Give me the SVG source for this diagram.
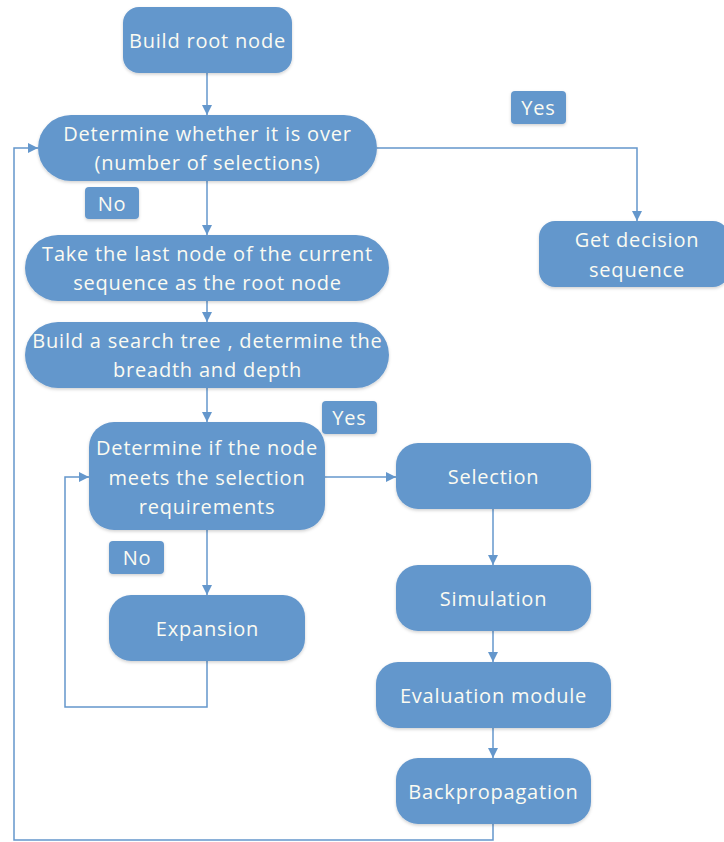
<svg xmlns="http://www.w3.org/2000/svg" width="724" height="842" viewBox="0 0 724 842">
<style>
.n{fill:#6497CC;}
.t{font-family:"Open Sans","Noto Sans",sans-serif;font-size:20px;letter-spacing:0.8px;fill:#FBFBF2;text-anchor:middle;}
.c{fill:none;stroke:#6497CC;stroke-width:1.5;}
</style>
<defs>
<marker id="a" viewBox="0 0 10 10" refX="10" refY="5" markerWidth="10" markerHeight="10" markerUnits="userSpaceOnUse" orient="auto">
<path d="M0,0 L10,5 L0,10 z" fill="#6497CC"/>
</marker>
<filter id="s" x="-10%" y="-10%" width="120%" height="130%">
<feDropShadow dx="0" dy="1.5" stdDeviation="1.5" flood-color="#000" flood-opacity="0.18"/>
</filter>
</defs>
<rect width="724" height="842" fill="#fff"/>
<g id="connectors">
<line class="c" x1="207" y1="73" x2="207" y2="115" marker-end="url(#a)"/>
<polyline class="c" points="377,148 637,148 637,221" marker-end="url(#a)"/>
<line class="c" x1="207" y1="181" x2="207" y2="235" marker-end="url(#a)"/>
<line class="c" x1="207" y1="301" x2="207" y2="322" marker-end="url(#a)"/>
<line class="c" x1="207" y1="388" x2="207" y2="422" marker-end="url(#a)"/>
<line class="c" x1="325" y1="477" x2="396" y2="477" marker-end="url(#a)"/>
<line class="c" x1="207" y1="530" x2="207" y2="595" marker-end="url(#a)"/>
<polyline class="c" points="207,661 207,707 65,707 65,477 89,477" marker-end="url(#a)"/>
<line class="c" x1="493" y1="509" x2="493" y2="565" marker-end="url(#a)"/>
<line class="c" x1="493" y1="631" x2="493" y2="662" marker-end="url(#a)"/>
<line class="c" x1="493" y1="728" x2="493" y2="758" marker-end="url(#a)"/>
<polyline class="c" points="493,824 493,840 14,840 14,148 38,148" marker-end="url(#a)"/>
</g>
<g id="build-root"><rect class="n" filter="url(#s)" x="123" y="7" width="169" height="66" rx="16"/><text class="t" x="207.5" y="48">Build root node</text></g>
<g id="determine-over"><rect class="n" filter="url(#s)" x="38" y="115" width="339" height="66" rx="33"/><text class="t" x="207.5" y="141">Determine whether it is over</text><text class="t" x="207.5" y="170">(number of selections)</text></g>
<g id="yes1"><rect class="n" filter="url(#s)" x="511" y="91" width="55" height="33" rx="4"/><text class="t" x="538.5" y="114.5">Yes</text></g>
<g id="no1"><rect class="n" filter="url(#s)" x="85" y="187" width="54" height="32" rx="4"/><text class="t" x="112" y="210.5">No</text></g>
<g id="get-decision"><rect class="n" filter="url(#s)" x="539" y="221" width="190" height="66" rx="16"/><text class="t" x="637" y="247">Get decision</text><text class="t" x="637" y="277">sequence</text></g>
<g id="take-last"><rect class="n" filter="url(#s)" x="25" y="235" width="364" height="66" rx="33"/><text class="t" x="207.5" y="260.5">Take the last node of the current</text><text class="t" x="207.5" y="290">sequence as the root node</text></g>
<g id="build-tree"><rect class="n" filter="url(#s)" x="25" y="322" width="364" height="66" rx="33"/><text class="t" x="207.5" y="347.5">Build a search tree , determine the</text><text class="t" x="207.5" y="376.5">breadth and depth</text></g>
<g id="yes2"><rect class="n" filter="url(#s)" x="322" y="401" width="55" height="33" rx="4"/><text class="t" x="349.5" y="424.5">Yes</text></g>
<g id="determine-node"><rect class="n" filter="url(#s)" x="89" y="422" width="236" height="108" rx="25"/><text class="t" x="207" y="454.5">Determine if the node</text><text class="t" x="207" y="484.5">meets the selection</text><text class="t" x="207" y="514">requirements</text></g>
<g id="no2"><rect class="n" filter="url(#s)" x="109" y="541" width="55" height="33" rx="4"/><text class="t" x="137" y="565">No</text></g>
<g id="expansion"><rect class="n" filter="url(#s)" x="109" y="595" width="196" height="66" rx="22"/><text class="t" x="207.5" y="635.5">Expansion</text></g>
<g id="selection"><rect class="n" filter="url(#s)" x="396" y="443" width="195" height="66" rx="22"/><text class="t" x="493.5" y="483.5">Selection</text></g>
<g id="simulation"><rect class="n" filter="url(#s)" x="396" y="565" width="195" height="66" rx="22"/><text class="t" x="493.5" y="606">Simulation</text></g>
<g id="evaluation"><rect class="n" filter="url(#s)" x="376" y="662" width="235" height="66" rx="22"/><text class="t" x="493.5" y="702.5">Evaluation module</text></g>
<g id="backprop"><rect class="n" filter="url(#s)" x="396" y="758" width="195" height="66" rx="22"/><text class="t" x="493.5" y="799">Backpropagation</text></g>
</svg>
